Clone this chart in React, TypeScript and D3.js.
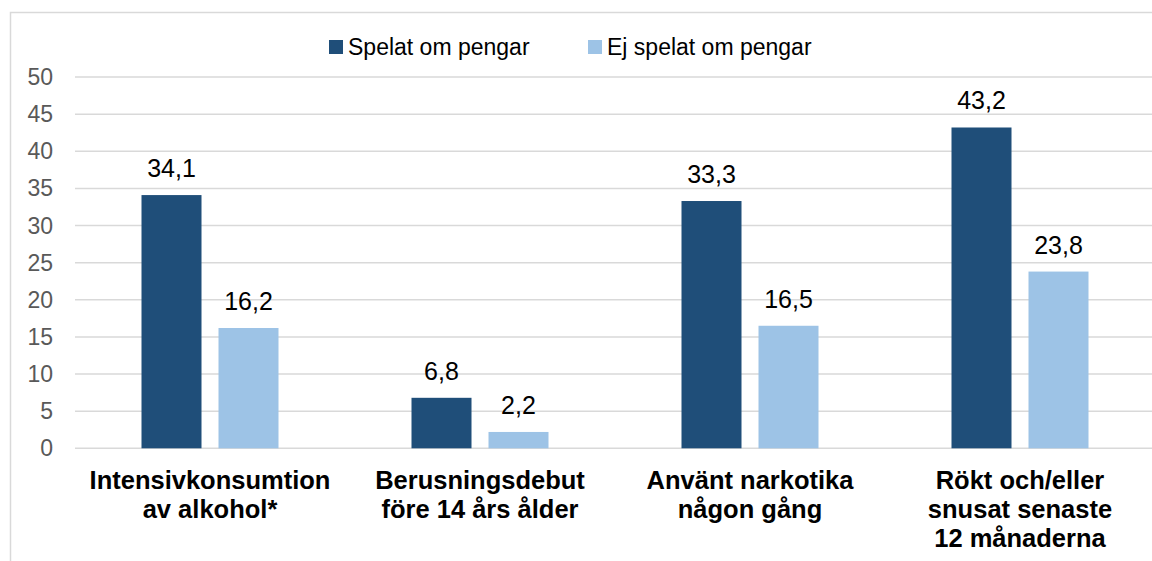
import React from "react";
import * as d3 from "d3";

// chart data
const categories = [
  ["Intensivkonsumtion", "av alkohol*"],
  ["Berusningsdebut", "före 14 års ålder"],
  ["Använt narkotika", "någon gång"],
  ["Rökt och/eller", "snusat senaste", "12 månaderna"],
];
const seriesNames = ["Spelat om pengar", "Ej spelat om pengar"];
const spelat = [34.1, 6.8, 33.3, 43.2];
const ejSpelat = [16.2, 2.2, 16.5, 23.8];
const yTicks = [0, 5, 10, 15, 20, 25, 30, 35, 40, 45, 50];

const colors = ["#1F4E79", "#9DC3E6"];
const font = "'Liberation Sans', Arial, sans-serif";

export default function App() {
  const width = 1152;
  const height = 561;

  const catKeys = categories.map((c) => c.join(" "));
  const x0 = d3
    .scaleBand()
    .domain(catKeys)
    .range([75, 1155])
    .paddingInner(0.4926)
    .paddingOuter(0.2463);
  const x1 = d3
    .scaleBand()
    .domain(seriesNames)
    .range([0, x0.bandwidth()])
    .paddingInner(0.2208);
  const y = d3.scaleLinear().domain([0, 50]).range([448.3, 77]);

  const values = [spelat, ejSpelat];
  const fmt = (v: number) => v.toFixed(1).replace(".", ",");

  // legend positions
  const legend = [
    { sq: 329, tx: 348 },
    { sq: 588, tx: 607 },
  ];

  return (
    <svg
      width={width}
      height={height}
      style={{ position: "absolute", left: 0, top: 0, background: "#fff" }}
    >
      <rect x={0} y={0} width={width} height={height} fill="#fff" />
      {/* chart frame */}
      <rect
        x={10.5}
        y={12.5}
        width={width + 20}
        height={height + 20}
        fill="none"
        stroke="#D9D9D9"
        strokeWidth={1.5}
      />

      {/* gridlines */}
      {yTicks.map((t) => (
        <line
          key={t}
          x1={75}
          x2={width}
          y1={y(t)}
          y2={y(t)}
          stroke="#D9D9D9"
          strokeWidth={1.5}
        />
      ))}

      {/* y tick labels */}
      {yTicks.map((t) => (
        <text
          key={"l" + t}
          x={53}
          y={y(t) + 8}
          textAnchor="end"
          fill="#595959"
          fontFamily={font}
          fontSize={23}
        >
          {t}
        </text>
      ))}

      {/* bars */}
      {values.map((vals, si) =>
        vals.map((v, ci) => {
          const bx = (x0(catKeys[ci]) ?? 0) + (x1(seriesNames[si]) ?? 0);
          return (
            <g key={si + "-" + ci}>
              <rect
                x={bx}
                y={y(v)}
                width={x1.bandwidth()}
                height={y(0) - y(v)}
                fill={colors[si]}
              />
              <text
                x={bx + x1.bandwidth() / 2}
                y={y(v) - 18}
                textAnchor="middle"
                fill="#000"
                fontFamily={font}
                fontSize={25}
              >
                {fmt(v)}
              </text>
            </g>
          );
        })
      )}

      {/* category labels */}
      {categories.map((lines, ci) => (
        <text
          key={"c" + ci}
          x={(x0(catKeys[ci]) ?? 0) + x0.bandwidth() / 2}
          y={489}
          textAnchor="middle"
          fill="#000"
          fontFamily={font}
          fontSize={25.5}
          fontWeight="bold"
        >
          {lines.map((ln, li) => (
            <tspan key={li} x={(x0(catKeys[ci]) ?? 0) + x0.bandwidth() / 2} y={489 + li * 29}>
              {ln}
            </tspan>
          ))}
        </text>
      ))}

      {/* legend */}
      {seriesNames.map((name, i) => (
        <g key={name}>
          <rect x={legend[i].sq} y={40} width={14} height={14} fill={colors[i]} />
          <text
            x={legend[i].tx}
            y={55}
            fill="#000"
            fontFamily={font}
            fontSize={23}
          >
            {name}
          </text>
        </g>
      ))}
    </svg>
  );
}
